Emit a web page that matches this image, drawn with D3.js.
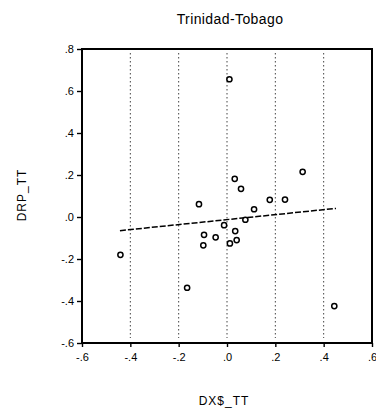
<!DOCTYPE html>
<html>
<head>
<meta charset="utf-8">
<script src="https://cdn.jsdelivr.net/npm/d3@7"></script>
<style>
  body { margin: 0; background: #fff; }
  svg { display: block; font-family: "Liberation Sans", Arial, sans-serif; }
  .axis text { font-size: 11px; fill: #000; }
  .axis line { stroke: #000; stroke-width: 1.4; }
  .axis path { display: none; }
</style>
</head>
<body>
<div id="chart"></div>
<script>
// scatter of DRP_TT against DX$_TT, Trinidad-Tobago
var dx = [0.010, 0.313, 0.032, 0.058, -0.116, 0.177, 0.240, 0.112, 0.076, -0.012,
          0.034, -0.095, -0.047, -0.098, 0.012, 0.040, -0.441, -0.165, 0.444];
var drp = [0.656, 0.215, 0.182, 0.134, 0.061, 0.082, 0.083, 0.037, -0.013, -0.039,
           -0.067, -0.085, -0.097, -0.135, -0.126, -0.110, -0.180, -0.337, -0.424];

// fitted line, end points
var fitX = [-0.443, 0.451];
var fitY = [-0.065, 0.041];

var xTicks = [-0.6, -0.4, -0.2, 0, 0.2, 0.4, 0.6];
var xTickLabels = ["-.6", "-.4", "-.2", ".0", ".2", ".4", ".6"];
var yTicks = [-0.6, -0.4, -0.2, 0, 0.2, 0.4, 0.6, 0.8];
var yTickLabels = ["-.6", "-.4", "-.2", ".0", ".2", ".4", ".6", ".8"];
var gridX = [-0.4, -0.2, 0, 0.2, 0.4];

var margin = { top: 49, left: 82, right: 4, bottom: 73 },
    width = 376 - margin.left - margin.right,
    height = 416 - margin.top - margin.bottom;

var svg = d3.select("#chart")
  .append("svg")
  .attr("width", 376)
  .attr("height", 416);

var g = svg.append("g")
  .attr("transform", "translate(" + margin.left + "," + margin.top + ")");

var xPositionScale = d3.scaleLinear()
  .domain([-0.6, 0.6])
  .range([0, width]);

var yPositionScale = d3.scaleLinear()
  .domain([-0.6, 0.8])
  .range([height, 0]);

// dotted vertical grid
g.selectAll(".grid")
  .data(gridX)
  .enter().append("line")
  .attr("class", "grid")
  .attr("x1", function (d) { return xPositionScale(d) })
  .attr("x2", function (d) { return xPositionScale(d) })
  .attr("y1", 4)
  .attr("y2", height - 5)
  .attr("stroke", "#444")
  .attr("stroke-width", 1)
  .attr("stroke-dasharray", "1.5,2.5");

var xAxis = d3.axisBottom(xPositionScale)
  .tickValues(xTicks)
  .tickSize(4)
  .tickSizeOuter(0)
  .tickPadding(6)
  .tickFormat(function (d, i) { return xTickLabels[i] });
g.append("g")
  .attr("class", "axis x-axis")
  .attr("transform", "translate(0," + height + ")")
  .call(xAxis);

var yAxis = d3.axisLeft(yPositionScale)
  .tickValues(yTicks)
  .tickSize(5)
  .tickSizeOuter(0)
  .tickPadding(3)
  .tickFormat(function (d, i) { return yTickLabels[i] });
g.append("g")
  .attr("class", "axis y-axis")
  .call(yAxis);

// frame
g.append("rect")
  .attr("x", 0)
  .attr("y", 0)
  .attr("width", width)
  .attr("height", height)
  .attr("fill", "none")
  .attr("stroke", "#000")
  .attr("stroke-width", 2);

// fit line
g.append("line")
  .attr("x1", xPositionScale(fitX[0]))
  .attr("y1", yPositionScale(fitY[0]))
  .attr("x2", xPositionScale(fitX[1]))
  .attr("y2", yPositionScale(fitY[1]))
  .attr("stroke", "#000")
  .attr("stroke-width", 1.5)
  .attr("stroke-dasharray", "6,2");

g.selectAll(".pt")
  .data(dx)
  .enter().append("circle")
  .attr("class", "pt")
  .attr("cx", function (d) { return xPositionScale(d) })
  .attr("cy", function (d, i) { return yPositionScale(drp[i]) })
  .attr("r", 2.6)
  .attr("fill", "#fff")
  .attr("stroke", "#000")
  .attr("stroke-width", 1.5);

// titles
svg.append("text")
  .attr("x", 230)
  .attr("y", 24)
  .attr("text-anchor", "middle")
  .attr("font-size", 14)
  .attr("letter-spacing", 0.4)
  .attr("fill", "#000")
  .text("Trinidad-Tobago");

svg.append("text")
  .attr("x", 224)
  .attr("y", 405)
  .attr("text-anchor", "middle")
  .attr("font-size", 12)
  .attr("letter-spacing", 1)
  .attr("fill", "#000")
  .text("DX$_TT");

svg.append("text")
  .attr("transform", "translate(26,195) rotate(-90)")
  .attr("text-anchor", "middle")
  .attr("font-size", 12)
  .attr("letter-spacing", 1)
  .attr("fill", "#000")
  .text("DRP_TT");
</script>
</body>
</html>
